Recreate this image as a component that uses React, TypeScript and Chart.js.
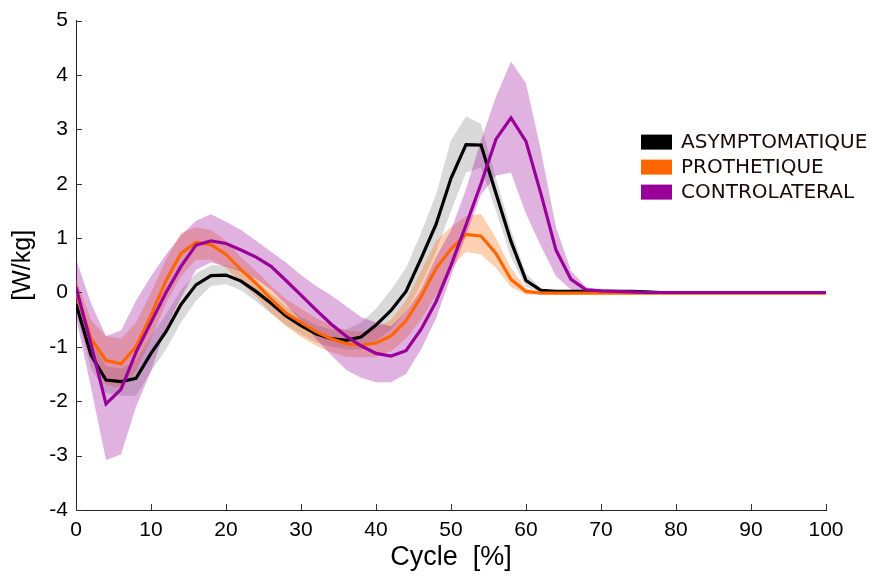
import React, { useEffect, useRef } from "react";
import { Chart, registerables } from "chart.js";

Chart.register(...registerables);

// Gait cycle (% of cycle), sampled every 2 %
const cyclePct = [
  0, 2, 4, 6, 8, 10, 12, 14, 16, 18, 20, 22, 24, 26, 28, 30, 32, 34, 36, 38, 40,
  42, 44, 46, 48, 50, 52, 54, 56, 58, 60, 62, 64, 66, 68, 70, 72, 74, 76, 78, 80,
  82, 84, 86, 88, 90, 92, 94, 96, 98, 100,
];

const seriesNames = ["ASYMPTOMATIQUE", "PROTHETIQUE", "CONTROLATERAL"];
const seriesColors = ["#000000", "#FF6600", "#990099"];
const bandColors = ["rgba(0,0,0,0.15)", "rgba(255,102,0,0.3)", "rgba(153,0,153,0.3)"];

const yTickMin = -4;
const yTickMax = 5;
const xTickMin = 0;
const xTickMax = 100;

// ASYMPTOMATIQUE
const asymMean = [
  -0.21, -1.15, -1.61, -1.64, -1.58, -1.12, -0.72, -0.22, 0.14, 0.31, 0.32,
  0.21, 0.02, -0.2, -0.43, -0.61, -0.76, -0.85, -0.88, -0.82, -0.6,
  -0.33, 0.02, 0.62, 1.25, 2.1, 2.72, 2.71, 1.82, 0.94, 0.22,
  0.04, 0.02, 0.02, 0.02, 0.02, 0.02, 0.02, 0.01, 0, 0,
  0, 0, 0, 0, 0, 0, 0, 0, 0, 0,
];
const asymUpper = [
  -0.05, -0.9, -1.35, -1.4, -1.25, -0.8, -0.4, 0.05, 0.35, 0.5, 0.5,
  0.4, 0.2, -0.02, -0.25, -0.45, -0.6, -0.68, -0.68, -0.55, -0.3,
  0.05, 0.45, 1.1, 1.8, 2.8, 3.24, 3.1, 2.1, 1.15, 0.35,
  0.08, 0.03, 0.02, 0.02, 0.02, 0.02, 0.02, 0.01, 0, 0,
  0, 0, 0, 0, 0, 0, 0, 0, 0, 0,
];
const asymLower = [
  -0.35, -1.4, -1.85, -1.9, -1.9, -1.45, -1.05, -0.55, -0.15, 0.12, 0.15,
  0.04, -0.16, -0.38, -0.6, -0.77, -0.92, -1.0, -1.05, -1.05, -0.88,
  -0.68, -0.35, 0.15, 0.75, 1.5, 2.2, 2.3, 1.5, 0.65, 0.1,
  0.0, 0.01, 0.01, 0.01, 0.01, 0.01, 0.01, 0.01, 0, 0,
  0, 0, 0, 0, 0, 0, 0, 0, 0, 0,
];

// PROTHETIQUE
const prothMean = [
  0.03, -0.85, -1.25, -1.31, -1.0, -0.42, 0.22, 0.72, 0.92, 0.88, 0.7,
  0.42, 0.17, -0.12, -0.38, -0.55, -0.72, -0.85, -0.94, -0.97, -0.93,
  -0.8, -0.52, -0.08, 0.44, 0.8, 1.07, 1.04, 0.72, 0.24, 0.02,
  -0.01, -0.01, -0.01, -0.01, -0.01, -0.01, -0.01, -0.01, -0.01, -0.01,
  -0.01, -0.01, -0.01, -0.01, -0.01, -0.01, -0.01, -0.01, -0.01, -0.01,
];
const prothUpper = [
  0.25, -0.5, -0.8, -0.85, -0.55, 0.0, 0.6, 1.1, 1.2, 1.15, 0.95,
  0.65, 0.4, 0.12, -0.12, -0.3, -0.47, -0.6, -0.7, -0.72, -0.65,
  -0.5, -0.15, 0.4, 0.95, 1.2, 1.4, 1.45, 1.0, 0.45, 0.08,
  0.0, 0, 0, 0, 0, 0, 0, 0, 0, 0,
  0, 0, 0, 0, 0, 0, 0, 0, 0, 0,
];
const prothLower = [
  -0.2, -1.2, -1.7, -1.75, -1.45, -0.85, -0.2, 0.3, 0.6, 0.6, 0.45,
  0.18, -0.08, -0.38, -0.62, -0.82, -0.98, -1.1, -1.18, -1.2, -1.18,
  -1.08, -0.85, -0.5, -0.05, 0.45, 0.75, 0.7, 0.45, 0.1, -0.04,
  -0.02, -0.02, -0.02, -0.02, -0.02, -0.02, -0.02, -0.02, -0.02, -0.02,
  -0.02, -0.02, -0.02, -0.02, -0.02, -0.02, -0.02, -0.02, -0.02, -0.02,
];

// CONTROLATERAL
const contraMean = [
  0.1, -0.95, -2.05, -1.78, -1.1, -0.55, 0.0, 0.48, 0.87, 0.95, 0.9,
  0.78, 0.65, 0.48, 0.22, -0.05, -0.32, -0.58, -0.8, -0.98, -1.12,
  -1.17, -1.07, -0.68, -0.17, 0.5, 1.24, 2.0, 2.82, 3.21, 2.78,
  1.81, 0.78, 0.24, 0.05, 0.03, 0.02, 0.01, 0, 0, 0,
  0, 0, 0, 0, 0, 0, 0, 0, 0, 0,
];
const contraUpper = [
  0.62, -0.2, -0.8, -0.7, -0.15, 0.3, 0.7, 1.05, 1.32, 1.44, 1.3,
  1.15, 0.95, 0.75, 0.55, 0.32, 0.12, -0.05, -0.25, -0.45, -0.55,
  -0.62, -0.35, 0.05, 0.65, 1.15, 1.9, 2.8, 3.6, 4.25, 3.85,
  2.6, 1.2, 0.4, 0.1, 0.05, 0.03, 0.02, 0.01, 0.01, 0.01,
  0.01, 0.01, 0.01, 0.01, 0.01, 0.01, 0.01, 0.01, 0.01, 0.01,
];
const contraLower = [
  -0.45, -1.75, -3.08, -2.98, -2.1, -1.45, -0.65, -0.1, 0.42, 0.55, 0.48,
  0.38, 0.25, 0.05, -0.22, -0.52, -0.85, -1.15, -1.42, -1.57, -1.65,
  -1.65, -1.5, -1.05, -0.48, 0.3, 1.05, 1.8, 2.15, 2.2, 1.45,
  0.85, 0.3, 0.05, 0, 0, 0, 0, 0, 0, 0,
  0, 0, 0, 0, 0, 0, 0, 0, 0, 0,
];

const toPoints = (vals: number[]) => cyclePct.map((x, i) => ({ x, y: vals[i] }));

const lineDs = (label: string, vals: number[], color: string) => ({
  label,
  data: toPoints(vals),
  borderColor: color,
  backgroundColor: color,
  borderWidth: 3.2,
  pointRadius: 0,
  fill: false,
  tension: 0,
});

const bandDs = (label: string, vals: number[], color: string, fill: any) => ({
  label,
  data: toPoints(vals),
  borderColor: "rgba(0,0,0,0)",
  backgroundColor: color,
  borderWidth: 0,
  pointRadius: 0,
  fill,
  tension: 0,
});

const innerTicksPlugin = {
  id: "innerTicks",
  afterDraw(chart: any) {
    const { ctx, chartArea, scales } = chart;
    ctx.save();
    ctx.strokeStyle = "#333";
    ctx.lineWidth = 1;
    ctx.beginPath();
    scales.x.ticks.forEach((t: any) => {
      const px = Math.round(scales.x.getPixelForValue(t.value)) + 0.5;
      ctx.moveTo(px, chartArea.bottom);
      ctx.lineTo(px, chartArea.bottom - 6);
    });
    scales.y.ticks.forEach((t: any) => {
      const py = Math.round(scales.y.getPixelForValue(t.value)) + 0.5;
      ctx.moveTo(chartArea.left, py);
      ctx.lineTo(chartArea.left + 6, py);
    });
    ctx.stroke();
    ctx.restore();
  },
};

const legendPlugin = {
  id: "boxLegend",
  afterDraw(chart: any) {
    const { ctx, chartArea } = chart;
    ctx.save();
    ctx.font = '20px "DejaVu Sans"';
    ctx.textBaseline = "middle";
    ctx.textAlign = "left";
    seriesNames.forEach((name, i) => {
      const bx = chartArea.left + 565;
      const by = chartArea.top + 114 + i * 25;
      ctx.fillStyle = seriesColors[i];
      ctx.fillRect(bx, by, 31, 15);
      ctx.fillStyle = "#1a0a0a";
      ctx.fillText(name, bx + 40, by + 8);
    });
    ctx.restore();
  },
};

export default function App() {
  const canvasRef = useRef<HTMLCanvasElement | null>(null);

  useEffect(() => {
    if (!canvasRef.current) return;
    const chart = new Chart(canvasRef.current, {
      type: "line",
      data: {
        datasets: [
          lineDs(seriesNames[2], contraMean, seriesColors[2]),
          lineDs(seriesNames[1], prothMean, seriesColors[1]),
          lineDs(seriesNames[0], asymMean, seriesColors[0]),
          bandDs("contraUpper", contraUpper, bandColors[2], "+1"),
          bandDs("contraLower", contraLower, bandColors[2], false),
          bandDs("prothUpper", prothUpper, bandColors[1], "+1"),
          bandDs("prothLower", prothLower, bandColors[1], false),
          bandDs("asymUpper", asymUpper, bandColors[0], "+1"),
          bandDs("asymLower", asymLower, bandColors[0], false),
        ] as any,
      },
      options: {
        responsive: false,
        animation: false,
        devicePixelRatio: 1,
        layout: { padding: { left: 0, top: 19, right: 47, bottom: 0 } },
        plugins: {
          legend: { display: false },
          tooltip: { enabled: false },
          filler: { drawTime: "beforeDatasetsDraw" },
        } as any,
        scales: {
          x: {
            type: "linear",
            min: xTickMin,
            max: xTickMax,
            grid: { display: false, drawTicks: false },
            border: { display: true, color: "#222", width: 1 },
            ticks: {
              stepSize: 10,
              autoSkip: false,
              maxRotation: 0,
              padding: 8,
              color: "#000",
              font: { family: "'Liberation Sans', Arial, sans-serif", size: 21 },
            },
            title: {
              display: true,
              text: "Cycle  [%]",
              color: "#000",
              font: { family: "'Liberation Sans', Arial, sans-serif", size: 27 },
              padding: { top: 0, bottom: 5 },
            },
            afterFit(scale: any) {
              scale.height = 69;
            },
          },
          y: {
            type: "linear",
            min: yTickMin,
            max: yTickMax,
            grid: { display: false, drawTicks: false },
            border: { display: true, color: "#222", width: 1 },
            ticks: {
              stepSize: 1,
              padding: 8,
              color: "#000",
              font: { family: "'Liberation Sans', Arial, sans-serif", size: 21 },
            },
            title: {
              display: true,
              text: "[W/kg]",
              color: "#000",
              font: { family: "'Liberation Sans', Arial, sans-serif", size: 25 },
              padding: { top: 8, bottom: 0 },
            },
            afterFit(scale: any) {
              scale.width = 76;
            },
          },
        },
      } as any,
      plugins: [innerTicksPlugin, legendPlugin],
    });
    return () => chart.destroy();
  }, []);

  return (
    <div style={{ position: "absolute", left: 0, top: 0, width: 873, height: 579, background: "#fff" }}>
      <canvas ref={canvasRef} width={873} height={579} style={{ display: "block" }} />
    </div>
  );
}
